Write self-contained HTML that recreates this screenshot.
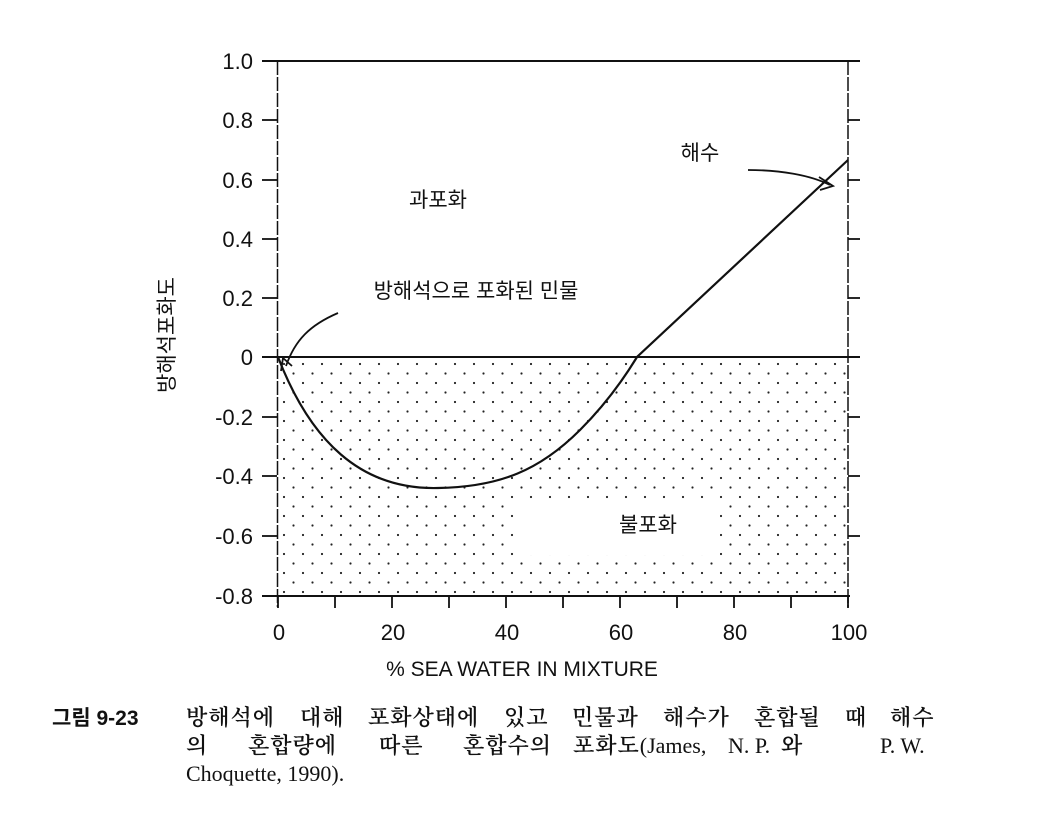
<!DOCTYPE html>
<html><head><meta charset="utf-8"><style>
body{margin:0;background:#fff;width:1041px;height:818px;overflow:hidden}
svg{position:absolute;left:0;top:0}
.t{font-family:"Liberation Sans","Noto Sans CJK KR",sans-serif;fill:#111}
.c{font-family:"Liberation Serif","Noto Serif CJK KR",serif;fill:#111;font-size:22px}
.k{font-family:"Noto Serif CJK KR",serif;font-weight:600;letter-spacing:1px}
</style></head><body>
<svg width="1041" height="818" viewBox="0 0 1041 818">
<defs>
<pattern id="d" width="19" height="19" patternUnits="userSpaceOnUse" x="282" y="362">
<circle cx="2" cy="2" r="1.1" fill="#222"/><circle cx="11.5" cy="11.5" r="1.1" fill="#222"/>
</pattern>
</defs>
<rect x="279" y="359" width="568" height="236" fill="url(#d)"/>
<rect x="520" y="500" width="200" height="55" fill="#fff"/>
<g stroke="#111" stroke-width="2" fill="none">
<line x1="262" y1="61" x2="860" y2="61"/>
<line x1="262" y1="357" x2="860" y2="357"/>
<line x1="262" y1="596" x2="850" y2="596"/>
<line x1="277.5" y1="61" x2="277.5" y2="607" stroke-width="1.5" stroke-dasharray="14 2"/>
<line x1="848" y1="61" x2="848" y2="607" stroke-width="1.5" stroke-dasharray="14 2"/>
<g stroke-width="1.8">
<line x1="262" y1="120" x2="277" y2="120"/><line x1="262" y1="180" x2="277" y2="180"/>
<line x1="262" y1="239" x2="277" y2="239"/><line x1="262" y1="298" x2="277" y2="298"/>
<line x1="262" y1="417" x2="277" y2="417"/><line x1="262" y1="476" x2="277" y2="476"/>
<line x1="262" y1="536" x2="277" y2="536"/>
<line x1="848" y1="120" x2="860" y2="120"/><line x1="848" y1="180" x2="860" y2="180"/>
<line x1="848" y1="239" x2="860" y2="239"/><line x1="848" y1="298" x2="860" y2="298"/>
<line x1="848" y1="417" x2="860" y2="417"/><line x1="848" y1="476" x2="860" y2="476"/>
<line x1="848" y1="536" x2="860" y2="536"/>
<line x1="278" y1="596" x2="278" y2="608"/><line x1="335" y1="596" x2="335" y2="608"/>
<line x1="392" y1="596" x2="392" y2="608"/><line x1="449" y1="596" x2="449" y2="608"/>
<line x1="506" y1="596" x2="506" y2="608"/><line x1="563" y1="596" x2="563" y2="608"/>
<line x1="620" y1="596" x2="620" y2="608"/><line x1="677" y1="596" x2="677" y2="608"/>
<line x1="734" y1="596" x2="734" y2="608"/><line x1="791" y1="596" x2="791" y2="608"/>
<line x1="848" y1="596" x2="848" y2="608"/>
</g>
<path d="M278 357 C310 440 360 490 438 488 C500 487 540 470 580 430 C600 410 620 385 637 357 L848 160" stroke-width="2.2"/>
<path d="M338 313 C310 325 295 340 286 366" stroke-width="1.8"/>
<path d="M281 371 L283 358 L292 366" stroke-width="1.8"/>
<path d="M748 170 C780 170 810 175 830 185" stroke-width="1.8"/>
<path d="M819 177 L833 186 L820 190" stroke-width="1.8"/>
</g>
<g class="t" font-size="22" text-anchor="end">
<text x="253" y="69">1.0</text><text x="253" y="128">0.8</text><text x="253" y="188">0.6</text>
<text x="253" y="247">0.4</text><text x="253" y="306">0.2</text><text x="253" y="365">0</text>
<text x="253" y="425">-0.2</text><text x="253" y="484">-0.4</text><text x="253" y="544">-0.6</text>
<text x="253" y="604">-0.8</text>
</g>
<g class="t" font-size="22" text-anchor="middle">
<text x="279" y="640">0</text><text x="393" y="640">20</text><text x="507" y="640">40</text>
<text x="621" y="640">60</text><text x="735" y="640">80</text><text x="849" y="640">100</text>
<text x="522" y="676" font-size="21">% SEA WATER IN MIXTURE</text>
<text x="438" y="207" font-size="21">과포화</text>
<text x="648" y="532" font-size="21">불포화</text>
<text x="700" y="160" font-size="21">해수</text>
<text x="476" y="298" font-size="21">방해석으로 포화된 민물</text>
<text transform="translate(174 335) rotate(-90)" font-size="21">방해석포화도</text>
</g>
<text class="t" x="52" y="725" font-size="21" font-weight="bold">그림 9-23</text>
<g class="c">
<text y="725" class="k"><tspan x="186">방해석에</tspan><tspan x="300">대해</tspan><tspan x="368">포화상태에</tspan><tspan x="504">있고</tspan><tspan x="572">민물과</tspan><tspan x="663">해수가</tspan><tspan x="754">혼합될</tspan><tspan x="845">때</tspan><tspan x="890">해수</tspan></text>
<text y="753"><tspan class="k" x="186">의</tspan><tspan class="k" x="248">혼합량에</tspan><tspan class="k" x="379">따른</tspan><tspan class="k" x="463">혼합수의</tspan><tspan class="k" x="573">포화도</tspan><tspan>(James,</tspan><tspan x="728">N. P.</tspan><tspan class="k" x="781">와</tspan><tspan x="880">P. W.</tspan></text>
<text x="186" y="781">Choquette, 1990).</text>
</g>
</svg>
</body></html>
